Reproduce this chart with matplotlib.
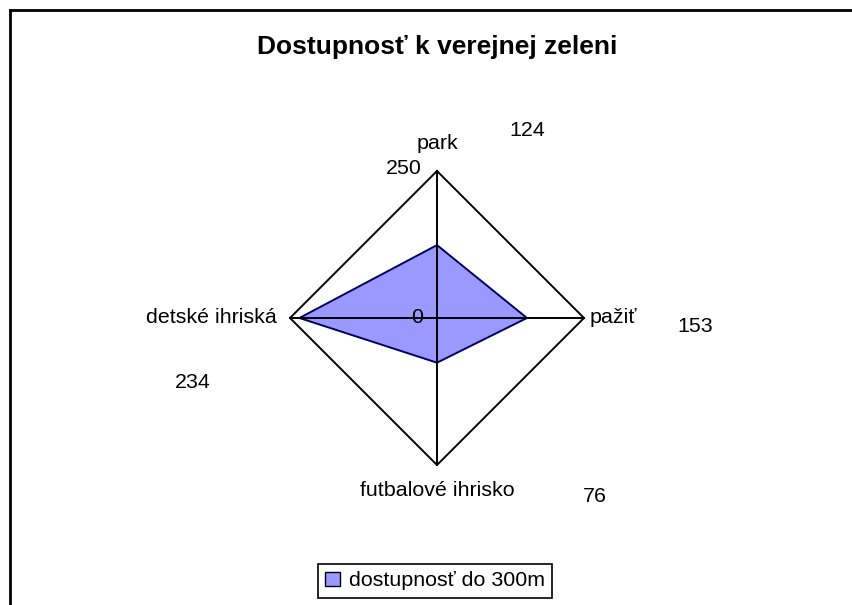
import numpy as np
import matplotlib.pyplot as plt
from matplotlib.lines import Line2D
from matplotlib.patches import Patch

plt.rcParams['font.family'] = ['Liberation Sans', 'DejaVu Sans']

categories = ['park', 'pažiť', 'futbalové ihrisko', 'detské ihriská']
values = [124, 153, 76, 234]
series_name = 'dostupnosť do 300m'
r_max = 250

fig = plt.figure(figsize=(8.53, 6.05), dpi=100)
ax = fig.add_axes([0, 0, 1, 1])

# pixel layout of the plot area
cx, cy, rad = 437, 318, 147
s = r_max / rad
ax.set_xlim(-cx * s, (853 - cx) * s)
ax.set_ylim(-(605 - cy) * s, cy * s)
ax.set_aspect('auto')
ax.axis('off')

n = len(categories)
theta = np.arange(n) * 2 * np.pi / n
ux, uy = np.sin(theta), np.cos(theta)

# outer grid and spokes
gx = np.append(ux * r_max, ux[0] * r_max)
gy = np.append(uy * r_max, uy[0] * r_max)
ax.plot(gx, gy, color='black', lw=1.4, zorder=2)
for i in range(n):
    ax.plot([0, ux[i] * r_max], [0, uy[i] * r_max], color='black', lw=1.4, zorder=3)

# data polygon
v = np.array(values)
ax.fill(ux * v, uy * v, facecolor='#9999FF', edgecolor='#000060', lw=1.4, zorder=1)

# category labels
fs = 15.4
ax.text(0, r_max + 27 * s, categories[0], ha='center', va='center', fontsize=fs)
ax.text(r_max + 6 * s, 0, categories[1], ha='left', va='center', fontsize=fs)
ax.text(0, -r_max - 26 * s, categories[2], ha='center', va='center', fontsize=fs)
ax.text(-r_max - 13 * s, 0, categories[3], ha='right', va='center', fontsize=fs)

# radial tick labels
ax.text(-15 * s, r_max + 2 * s, str(r_max), ha='right', va='center', fontsize=fs)
ax.text(-14 * s, 0, '0', ha='right', va='center', fontsize=fs)

# data labels (offset as in the original)
lab_pos = [(90, 187), (258, -9), (158, -179), (-244, -65)]
for (dx, dy), val in zip(lab_pos, values):
    ax.text(dx * s, dy * s, str(val), ha='center', va='center', fontsize=fs)

fig.text(437 / 853, 1 - 47 / 605, 'Dostupnosť k verejnej zeleni', ha='center',
         va='center', fontsize=19, fontweight='bold')

handle = Patch(facecolor='#9999FF', edgecolor='black', lw=1)
leg = fig.legend([handle], [series_name], loc='upper center',
                 bbox_to_anchor=(435 / 853, 1 - 564 / 605), fontsize=fs,
                 fancybox=False, edgecolor='black', framealpha=1,
                 handlelength=0.7, handleheight=0.7, handletextpad=0.4,
                 borderpad=0.35, borderaxespad=0)
leg.get_frame().set_linewidth(1.2)

# outer chart frame (only left and top edges are visible)
fig.add_artist(Line2D([9.5 / 853, 9.5 / 853], [0, 1 - 9.5 / 605], color='black', lw=2,
                      transform=fig.transFigure))
fig.add_artist(Line2D([9.5 / 853, 1], [1 - 9.5 / 605, 1 - 9.5 / 605], color='black', lw=2,
                      transform=fig.transFigure))

fig.savefig('out.png', dpi=100)
